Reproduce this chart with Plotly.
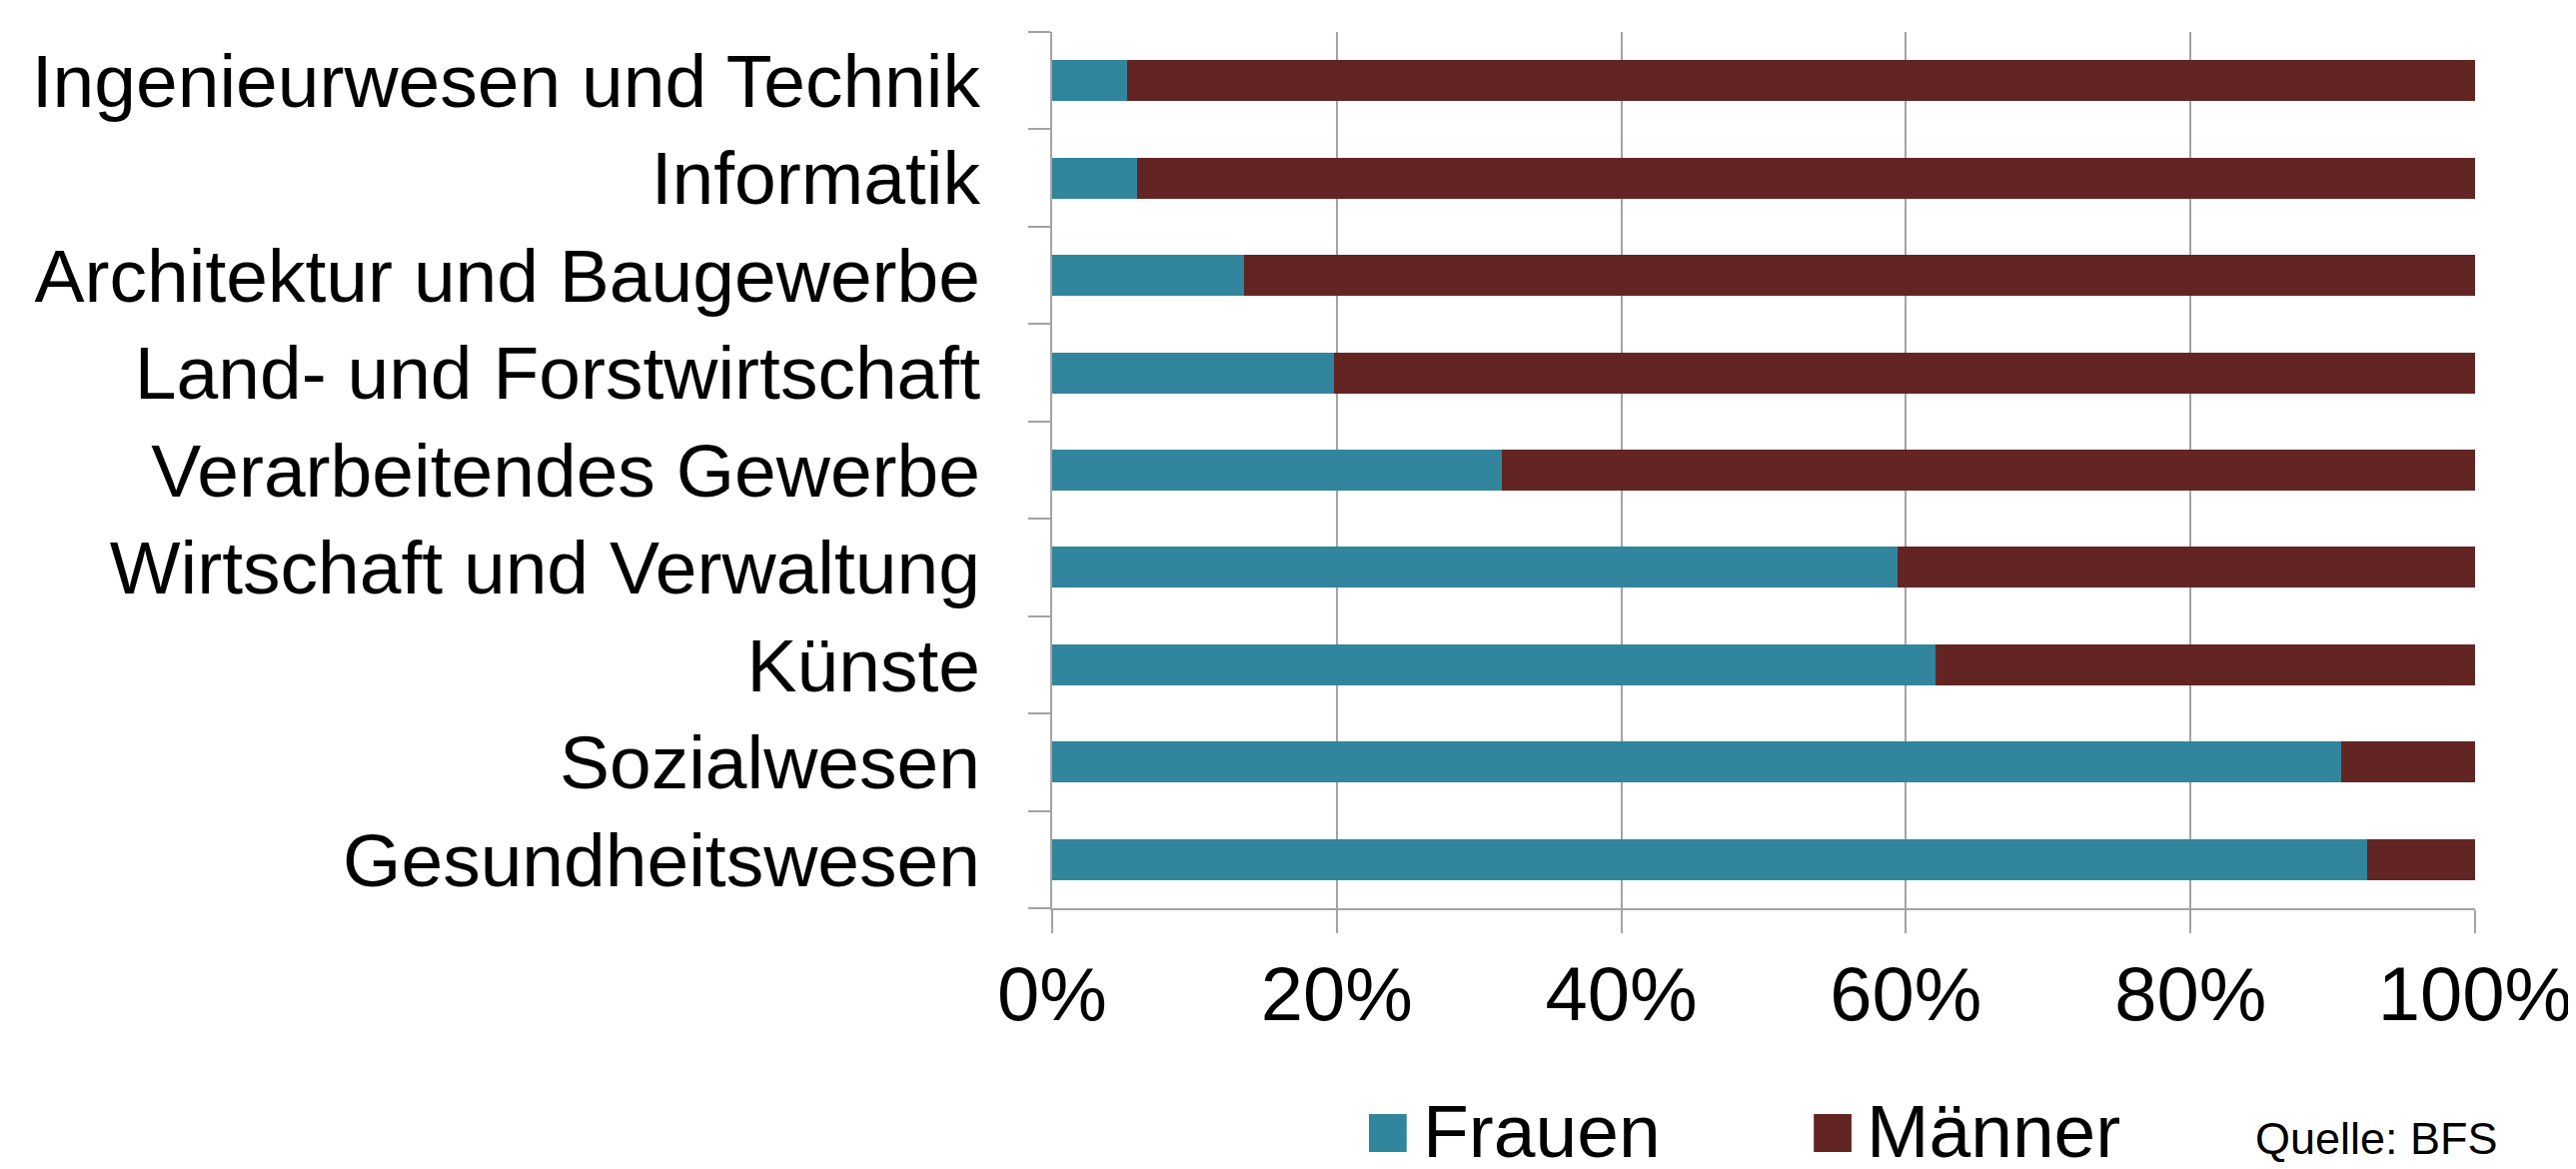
import plotly.graph_objects as go

categories = [
    "Ingenieurwesen und Technik",
    "Informatik",
    "Architektur und Baugewerbe",
    "Land- und Forstwirtschaft",
    "Verarbeitendes Gewerbe",
    "Wirtschaft und Verwaltung",
    "Künste",
    "Sozialwesen",
    "Gesundheitswesen",
]
frauen = [5.3, 6.0, 13.5, 19.8, 31.6, 59.4, 62.1, 90.6, 92.4]
maenner = [94.7, 94.0, 86.5, 80.2, 68.4, 40.6, 37.9, 9.4, 7.6]
series_names = ["Frauen", "Männer"]
x_ticks = [0, 20, 40, 60, 80, 100]
x_ticklabels = ["0%", "20%", "40%", "60%", "80%", "100%"]
source_text = "Quelle: BFS"

C_F = "#31859C"
C_M = "#632523"
GRID = "#A3A3A3"
FONT = "Liberation Sans, Arial, sans-serif"

W, H = 2578, 1170
L, R, T, B = 1045, 2478, 24, 901  # plot area in pixels

fig = go.Figure()
fig.add_trace(go.Bar(y=categories, x=frauen, name=series_names[0], orientation="h",
                     marker=dict(color=C_F, line=dict(width=0)), showlegend=False))
fig.add_trace(go.Bar(y=categories, x=maenner, name=series_names[1], orientation="h",
                     marker=dict(color=C_M, line=dict(width=0)), showlegend=False))

def px(x):
    return (x - L) / (R - L)

def py(y):
    return (B - y) / (B - T)

# manual legend
legend_items = [(series_names[0], C_F, 1364, 1416), (series_names[1], C_M, 1812, 1863)]
shapes = []
annotations = []
for name, col, bx, tx in legend_items:
    shapes.append(dict(type="rect", xref="paper", yref="paper",
                       x0=px(bx), x1=px(bx + 38), y0=py(1145), y1=py(1107),
                       fillcolor=col, line=dict(width=0)))
    annotations.append(dict(text=name, xref="paper", yref="paper", x=px(tx), y=py(1124),
                            xanchor="left", yanchor="middle", showarrow=False,
                            font=dict(family=FONT, size=75, color="black")))
annotations.append(dict(text=source_text, xref="paper", yref="paper", x=px(2503), y=py(1131),
                        xanchor="right", yanchor="middle", showarrow=False,
                        font=dict(family=FONT, size=45, color="black")))

fig.update_layout(
    width=W, height=H,
    margin=dict(l=L, r=W - R, t=T, b=H - B, pad=0),
    barmode="stack", bargap=0.58,
    plot_bgcolor="white", paper_bgcolor="white",
    font=dict(family=FONT, color="black"),
    shapes=shapes, annotations=annotations,
    xaxis=dict(range=[0, 100], tickvals=x_ticks, ticktext=x_ticklabels,
               showgrid=True, gridcolor=GRID, gridwidth=2,
               showline=True, linecolor=GRID, linewidth=2,
               ticks="outside", ticklen=23, tickwidth=2, tickcolor=GRID,
               zeroline=False, tickfont=dict(size=76, family=FONT, color="black"),
               ticklabelstandoff=-4),
    yaxis=dict(categoryorder="array", categoryarray=categories[::-1],
               range=[-0.5, 8.5], tickson="boundaries",
               showgrid=False, showline=True, linecolor=GRID, linewidth=2,
               ticks="outside", ticklen=22, tickwidth=2, tickcolor=GRID,
               tickfont=dict(size=75, family=FONT, color="black"),
               ticklabelstandoff=55),
)

fig.write_html("out.html")
